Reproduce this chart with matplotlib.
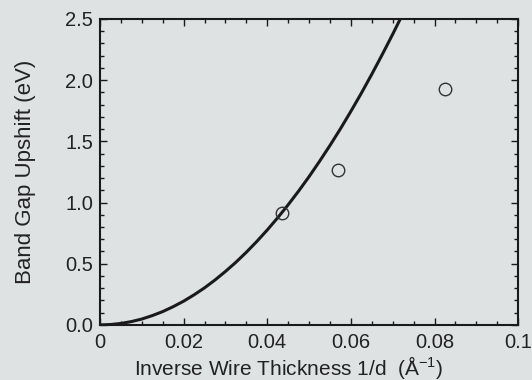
import numpy as np
import matplotlib
matplotlib.use('Agg')
import matplotlib.pyplot as plt
from matplotlib.ticker import MultipleLocator

# theory curve
curve_x = [0, 0.0025, 0.005, 0.0075, 0.01, 0.0125, 0.015, 0.0175, 0.02,
           0.0225, 0.025, 0.0275, 0.03, 0.0325, 0.035, 0.0375, 0.04, 0.0425,
           0.045, 0.0475, 0.05, 0.0525, 0.055, 0.0575, 0.06, 0.0625, 0.065,
           0.0675, 0.07, 0.0718]
curve_y = [0, 0.003, 0.012, 0.027, 0.048, 0.076, 0.109, 0.149, 0.194,
           0.246, 0.303, 0.367, 0.437, 0.512, 0.594, 0.682, 0.776, 0.876,
           0.982, 1.094, 1.212, 1.337, 1.467, 1.603, 1.746, 1.894, 2.049,
           2.210, 2.376, 2.5]

# measured points (open circles)
pts_x = [0.0435, 0.0569, 0.0825]
pts_y = [0.915, 1.27, 1.93]

xticks = [0, 0.02, 0.04, 0.06, 0.08, 0.1]
xtick_labels = ['0', '0.02', '0.04', '0.06', '0.08', '0.1']
yticks = [0, 0.5, 1.0, 1.5, 2.0, 2.5]
ytick_labels = ['0.0', '0.5', '1.0', '1.5', '2.0', '2.5']

bg = '#dfe2e3'
ink = '#1a1a1a'

plt.rcParams['font.family'] = ['Liberation Sans', 'DejaVu Sans']
plt.rcParams['mathtext.default'] = 'regular'

fig = plt.figure(figsize=(5.32, 3.80), dpi=100, facecolor=bg)
ax = fig.add_axes([0.188, 0.145, 0.786, 0.805], facecolor=bg)

ax.plot(curve_x, curve_y, color=ink, linewidth=2.2, solid_capstyle='butt')
ax.plot(pts_x, pts_y, linestyle='none', marker='o', markersize=9,
        markerfacecolor='none', markeredgecolor='#333333', markeredgewidth=1.0)

ax.set_xlim(0, 0.1)
ax.set_ylim(0, 2.5)
ax.set_xticks(xticks)
ax.set_xticklabels(xtick_labels)
ax.set_yticks(yticks)
ax.set_yticklabels(ytick_labels)
ax.xaxis.set_minor_locator(MultipleLocator(0.005))
ax.yaxis.set_minor_locator(MultipleLocator(0.1))

ax.tick_params(which='both', direction='in', top=True, right=True,
               color=ink, width=1.0, labelsize=14.5, labelcolor='#222222')
ax.tick_params(which='major', length=5)
ax.tick_params(which='minor', length=3)
ax.tick_params(axis='x', pad=6)
ax.tick_params(axis='y', pad=5)
for s in ax.spines.values():
    s.set_linewidth(1.5)
    s.set_color(ink)

ax.set_xlabel('Inverse Wire Thickness 1/d  (Å$^{-1}$)', fontsize=15,
              color='#222222')
ax.xaxis.set_label_coords(0.45, -0.095)
ax.set_ylabel('Band Gap Upshift (eV)', fontsize=16, color='#222222',
              labelpad=21)

fig.savefig('out.png', dpi=100, facecolor=bg)
